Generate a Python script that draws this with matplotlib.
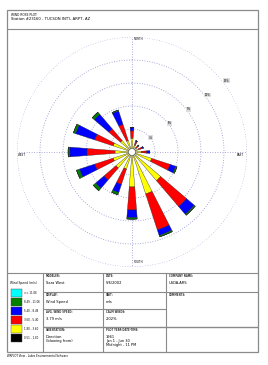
import numpy as np
import matplotlib
matplotlib.use("Agg")
import matplotlib.pyplot as plt
from matplotlib.patches import Rectangle

# === Daten: Windrichtungen (blowing from) und Häufigkeiten je Geschwindigkeitsklasse (%) ===
directions = ["N", "NNE", "NE", "ENE", "E", "ESE", "SE", "SSE",
              "S", "SSW", "SW", "WSW", "W", "WNW", "NW", "NNW"]
dir_deg = [0, 22.5, 45, 67.5, 90, 112.5, 135, 157.5,
           180, 202.5, 225, 247.5, 270, 292.5, 315, 337.5]

speed_bins = ["0.51 - 1.80", "1.80 - 3.60", "3.60 - 5.40", "5.40 - 8.49", "8.49 - 11.06", ">= 11.06"]
bin_colors = ["#000000", "#ffff00", "#ff0000", "#0000ff", "#008000", "#00ffff"]

freq_051_180 = [0.25, 0.25, 0.25, 0.25, 0.25, 0.25, 0.25, 0.25, 0.25, 0.25, 0.25, 0.25, 0.25, 0.25, 0.25, 0.25]
freq_180_360 = [1.55, 0.71, 0.47, 0.65, 0.95, 2.45, 4.67, 5.51, 4.31, 2.09, 2.51, 2.33, 1.97, 2.33, 1.73, 1.31]
freq_360_540 = [0.96, 0.48, 0.36, 0.48, 0.72, 2.52, 4.44, 4.92, 3.00, 2.10, 2.04, 2.52, 3.66, 2.52, 1.98, 2.22]
freq_540_849 = [0.48, 0.12, 0.12, 0.18, 0.36, 0.78, 1.32, 0.78, 1.02, 1.14, 1.44, 2.10, 2.22, 2.64, 2.52, 1.86]
freq_849_1106 = [0.00, 0.00, 0.00, 0.00, 0.00, 0.18, 0.18, 0.18, 0.18, 0.30, 0.42, 0.42, 0.24, 0.30, 0.36, 0.12]
freq_ge_1106 = [0.0] * 16

ring_values = [3, 6, 9, 12, 15]
ring_labels = ["3%", "6%", "9%", "12%", "15%"]

# === Textinhalte ===
title_1 = "WIND ROSE PLOT:"
title_2 = "Station #23160 - TUCSON INT'L ARPT, AZ"
footer = "WRPLOT View - Lakes Environmental Software"

grid_color = "#8f8fcf"
frame_color = "#8a8a8a"
W, H = 268, 365

fig = plt.figure(figsize=(W / 100, H / 100), dpi=100)
fig.patch.set_facecolor("white")

# === Layout-Achse in Pixelkoordinaten (Rahmen, Tabelle) ===
lay = fig.add_axes([0, 0, 1, 1])
lay.set_xlim(0, W)
lay.set_ylim(H, 0)
lay.axis("off")

def hline(y, x0, x1, lw=0.8):
    lay.plot([x0, x1], [y, y], color=frame_color, lw=lw, solid_capstyle="butt")

def vline(x, y0, y1, lw=0.8):
    lay.plot([x, x], [y0, y1], color=frame_color, lw=lw, solid_capstyle="butt")

# Rahmen
lay.add_patch(Rectangle((7, 10), 251, 342, fill=False, edgecolor=frame_color, lw=0.9))
hline(29, 7, 258)
hline(273, 7, 258)
vline(43, 273, 352)
vline(103, 273, 352)
vline(166, 273, 352)
hline(292, 43, 258)
hline(309, 43, 166)
hline(327, 43, 258, lw=1.0)

lay.text(11, 14.5, title_1, fontsize=2.2, va="center", ha="left")
lay.text(11, 19.5, title_2, fontsize=2.7, va="center", ha="left")
lay.text(7, 356, footer, fontsize=1.9, va="center", ha="left")

# Legende
lay.text(23, 283, "Wind Speed (m/s)", fontsize=2.2, ha="center", va="center")
legend_order = list(range(len(speed_bins)))[::-1]
for i, b in enumerate(legend_order):
    y0 = 289 + i * 9
    lay.add_patch(Rectangle((11, y0), 11, 8, facecolor=bin_colors[b], edgecolor="#444444", lw=0.3))
    lay.text(24, y0 + 4, speed_bins[b], fontsize=1.9, ha="left", va="center")

# Tabellenzellen: (x, y, Überschrift, Werte)
cells = [
    (46, 276, "MODELER:", ["Sara West"]),
    (106, 276, "DATE:", ["5/6/2002"]),
    (169, 276, "COMPANY NAME:", ["USDA-ARS"]),
    (46, 295, "DISPLAY:", ["Wind Speed"]),
    (106, 295, "UNIT:", ["m/s"]),
    (169, 295, "COMMENTS:", []),
    (46, 312, "AVG. WIND SPEED:", ["3.79 m/s"]),
    (106, 312, "CALM WINDS:", ["2.02%"]),
    (46, 330, "ORIENTATION:", ["Direction", "(blowing from)"]),
    (106, 330, "PLOT YEAR-DATE-TIME:", ["1961", "Jan 1 - Jun 30", "Midnight - 11 PM"]),
]
for x, y, head, vals in cells:
    lay.text(x, y, head, fontsize=1.8, ha="left", va="center", fontweight="bold", color="#333333")
    for k, v in enumerate(vals):
        lay.text(x, y + 7 + k * 4.2, v, fontsize=2.6, ha="left", va="center")

# Himmelsrichtungen
lay.text(134, 39.5, "NORTH", fontsize=2.0, ha="left", va="center")
lay.text(134, 262, "SOUTH", fontsize=2.0, ha="left", va="center")
lay.text(18, 155, "WEST", fontsize=2.0, ha="left", va="center")
lay.text(244, 155, "EAST", fontsize=2.0, ha="right", va="center")

# === Windrose (Polarachse) ===
cx, cy, rad = 132, 152, 115
ax = fig.add_axes([(cx - rad) / W, (H - cy - rad) / H, 2 * rad / W, 2 * rad / H],
                  projection="polar")
ax.set_facecolor("none")
ax.set_theta_zero_location("N")
ax.set_theta_direction(-1)
ax.set_ylim(0, ring_values[-1])
ax.grid(False)
ax.set_xticks([])
ax.set_yticks([])
ax.spines["polar"].set_visible(False)

full = np.linspace(0, 2 * np.pi, 361)
for r in ring_values:
    ax.plot(full, np.full_like(full, r), color=grid_color, lw=0.6, ls=(0, (1, 2)))
for a in [0, 90, 180, 270]:
    ax.plot([np.deg2rad(a)] * 2, [0, ring_values[-1]], color=grid_color, lw=0.6, ls=(0, (1, 2)))
for r, lab in zip(ring_values, ring_labels):
    ax.text(np.deg2rad(53), r * 1.03, lab, fontsize=1.9, ha="center", va="center",
            bbox=dict(boxstyle="square,pad=0.15", fc="#dddddd", ec="none"))

theta = np.deg2rad(dir_deg)
width = np.deg2rad(9)
series = [freq_051_180, freq_180_360, freq_360_540, freq_540_849, freq_849_1106, freq_ge_1106]
bottom = np.zeros(len(directions))
for vals, col in zip(series, bin_colors):
    vals = np.array(vals)
    ax.bar(theta, vals, width=width, bottom=bottom, color=col,
           edgecolor="#222222", linewidth=0.25, zorder=3)
    bottom += vals

# Calm-Kreis in der Mitte
ax.fill(full, np.full_like(full, 0.45), facecolor="white", edgecolor="#555555", lw=0.4, zorder=4)

fig.savefig("out.png", dpi=100)
